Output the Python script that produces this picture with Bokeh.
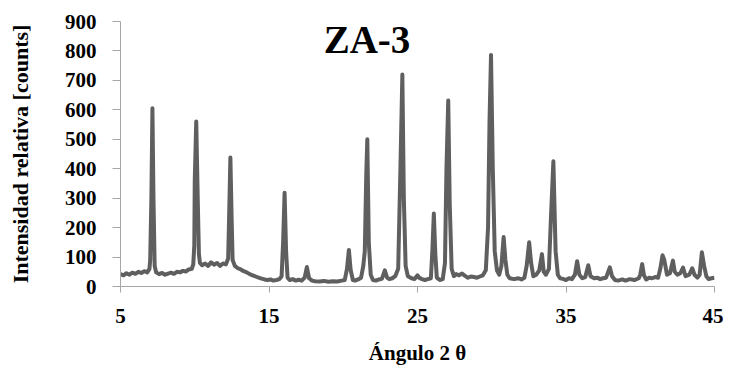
from bokeh.plotting import figure
from bokeh.models import FixedTicker, Label, ColumnDataSource
from bokeh.embed import file_html
from bokeh.resources import INLINE

# Diffraction pattern: 2-theta angle (deg) and counts
angle = [
    5.0, 5.2, 5.4, 5.6, 5.8, 6.0, 6.2, 6.4, 6.6, 6.8, 6.95, 7.0, 7.08, 7.15, 7.22, 7.3, 7.4,
    7.6, 7.8, 8.0, 8.2, 8.4, 8.6, 8.8, 9.0, 9.2, 9.4, 9.6, 9.8, 9.9, 9.97, 10.0, 10.1, 10.2,
    10.28, 10.35, 10.5, 10.7, 10.9, 11.1, 11.3, 11.5, 11.7, 11.9, 12.1, 12.25, 12.32, 12.4,
    12.48, 12.55, 12.7, 12.9, 13.1, 13.3, 13.5, 13.7, 13.9, 14.1, 14.3, 14.5, 14.7, 14.9,
    15.1, 15.3, 15.5, 15.7, 15.85, 15.95, 16.05, 16.15, 16.25, 16.4, 16.6, 16.8, 17.0, 17.2,
    17.4, 17.55, 17.7, 17.9, 18.1, 18.4, 18.7, 19.0, 19.3, 19.6, 19.9, 20.1, 20.25, 20.38,
    20.5, 20.65, 20.8, 21.0, 21.2, 21.35, 21.45, 21.55, 21.62, 21.72, 21.85, 22.0, 22.2,
    22.4, 22.6, 22.8, 22.95, 23.1, 23.3, 23.5, 23.7, 23.85, 23.98, 24.08, 24.2, 24.35, 24.6,
    24.8, 25.0, 25.1, 25.3, 25.5, 25.7, 25.9, 26.0, 26.1, 26.2, 26.3, 26.5, 26.7, 26.85,
    26.95, 27.07, 27.17, 27.3, 27.45, 27.6, 27.8, 28.0, 28.2, 28.4, 28.6, 28.8, 29.0, 29.2,
    29.4, 29.6, 29.75, 29.85, 29.95, 30.07, 30.2, 30.35, 30.5, 30.65, 30.8, 30.92, 31.05,
    31.2, 31.5, 31.8, 32.0, 32.2, 32.35, 32.52, 32.65, 32.8, 33.0, 33.2, 33.38, 33.5, 33.65,
    33.85, 34.0, 34.15, 34.3, 34.45, 34.6, 34.8, 35.0, 35.2, 35.4, 35.6, 35.75, 35.9, 36.1,
    36.3, 36.5, 36.65, 36.9, 37.1, 37.3, 37.5, 37.7, 37.95, 38.1, 38.3, 38.5, 38.8, 39.0,
    39.3, 39.6, 39.9, 40.0, 40.13, 40.25, 40.4, 40.6, 40.8, 41.0, 41.2, 41.35, 41.5, 41.62,
    41.8, 42.0, 42.2, 42.32, 42.5, 42.7, 42.88, 43.05, 43.3, 43.5, 43.65, 43.85, 44.0,
    44.15, 44.3, 44.45, 44.6, 44.8, 45.0,
]
counts = [
    42, 38, 45, 40, 47, 43, 50, 46, 52, 48, 60, 90, 300, 605, 300, 70, 48,
    42, 46, 40, 44, 47, 43, 50, 48, 53, 51, 58, 60, 75, 140, 360, 560, 300,
    110, 80, 72, 78, 70, 82, 74, 80, 70, 78, 75, 95, 250, 438,
    240, 90, 70, 62, 58, 52, 48, 42, 38, 34, 30, 27, 24, 22,
    24, 20, 22, 25, 35, 150, 318, 120, 30, 22, 25, 20, 23, 20,
    30, 66, 28, 20, 18, 17, 19, 16, 18, 17, 20, 22, 60, 124,
    55, 22, 20, 24, 30, 70, 120, 380, 500, 150, 40, 22, 20,
    24, 26, 55, 30, 25, 28, 35, 60, 400, 720, 300, 70, 35, 28,
    25, 38, 30, 25, 22, 25, 28, 120, 248, 110, 30, 22, 25, 80,
    400, 632, 280, 60, 35, 42, 38, 44, 36, 30, 34, 32, 30, 34,
    38, 55, 200, 560, 786, 400, 120, 55, 40, 70, 168, 90, 40,
    28, 25, 28, 24, 30, 70, 150, 80, 35, 40, 55, 110, 50, 40,
    60, 250, 425, 120, 40, 28, 26, 22, 28, 25, 40, 86, 40, 28,
    32, 72, 35, 28, 30, 25, 28, 30, 65, 35, 22, 20, 24, 20,
    25, 22, 28, 40, 76, 38, 24, 30, 28, 32, 30, 60, 106, 90,
    40, 45, 88, 50, 40, 45, 64, 35, 40, 62, 40, 30, 40,
    116, 70, 35, 25, 28, 30,
]
x_ticks = [5, 15, 25, 35, 45]
y_ticks = [0, 100, 200, 300, 400, 500, 600, 700, 800, 900]
title_text = "ZA-3"
x_label = "Ángulo 2 θ"
y_label = "Intensidad relativa [counts]"

src = ColumnDataSource(data=dict(angle=angle, counts=counts))

p = figure(width=723, height=368, x_range=(5, 45), y_range=(0, 900),
           output_backend="svg", toolbar_location=None,
           min_border_left=120, min_border_right=9, min_border_top=21,
           min_border_bottom=82)
p.outline_line_color = None
p.xgrid.visible = False
p.ygrid.visible = False
p.background_fill_color = "white"
p.border_fill_color = "white"

p.line("angle", "counts", source=src, line_color="#5f5f5f", line_width=4,
       line_join="round")

axis_col = "#a6a6a6"
serif = "Liberation Serif"
for ax in (p.xaxis[0], p.yaxis[0]):
    ax.axis_line_color = axis_col
    ax.major_tick_line_color = axis_col
    ax.minor_tick_line_color = None
    ax.major_tick_in = 0
    ax.major_label_text_font = serif
    ax.major_label_text_font_style = "bold"
    ax.major_label_text_font_size = "21px"
    ax.major_label_text_color = "black"
    ax.axis_label_text_font = serif
    ax.axis_label_text_font_style = "bold"
    ax.axis_label_text_color = "black"

p.xaxis.ticker = FixedTicker(ticks=x_ticks)
p.yaxis.ticker = FixedTicker(ticks=y_ticks)
p.xaxis.major_tick_out = 6
p.yaxis.major_tick_out = 8
p.xaxis.major_label_standoff = 16
p.yaxis.major_label_standoff = 16

p.xaxis.axis_label = x_label
p.xaxis.axis_label_text_font_size = "21px"
p.xaxis.axis_label_standoff = 15

p.yaxis.axis_label = y_label
p.yaxis.axis_label_text_font_size = "22px"
p.yaxis.axis_label_standoff = 29

p.add_layout(Label(x=21.6, y=839, text=title_text, text_align="center",
                   text_baseline="middle", text_font=serif,
                   text_font_style="bold", text_font_size="39px",
                   text_color="black"))

open("out.html", "w").write(file_html(p, INLINE))
